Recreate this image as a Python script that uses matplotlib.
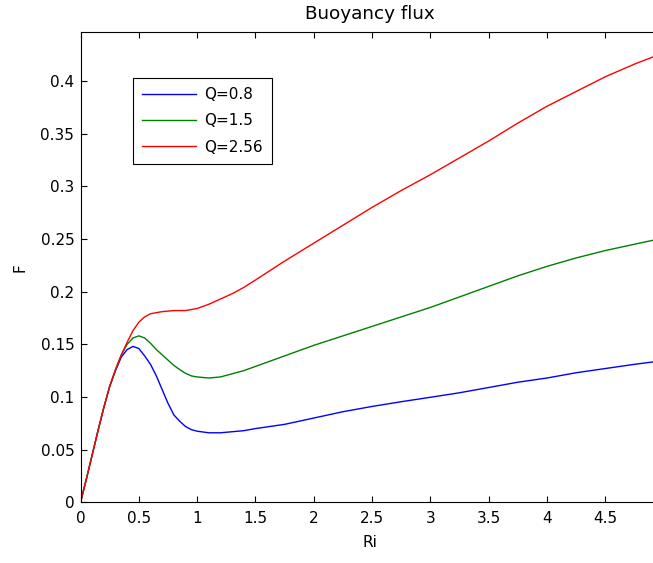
import numpy as np
import matplotlib
matplotlib.use("Agg")
import matplotlib.pyplot as plt
from matplotlib.ticker import FormatStrFormatter

# Valores (Ri comun para las tres curvas)
ri = [0, 0.05, 0.1, 0.15, 0.2, 0.25, 0.3, 0.35, 0.4, 0.45, 0.5, 0.55, 0.6, 0.65,
      0.7, 0.75, 0.8, 0.85, 0.9, 0.95, 1.0, 1.1, 1.2, 1.3, 1.4, 1.5, 1.75, 2.0,
      2.25, 2.5, 2.75, 3.0, 3.25, 3.5, 3.75, 4.0, 4.25, 4.5, 4.75, 4.96]

f_q08 = [0, 0.022, 0.045, 0.068, 0.09, 0.11, 0.125, 0.138, 0.145, 0.148, 0.146,
         0.139, 0.131, 0.120, 0.107, 0.094, 0.083, 0.077, 0.072, 0.069, 0.0675,
         0.066, 0.066, 0.067, 0.068, 0.070, 0.074, 0.080, 0.086, 0.091, 0.0955,
         0.0997, 0.104, 0.109, 0.114, 0.118, 0.123, 0.127, 0.131, 0.134]

f_q15 = [0, 0.022, 0.045, 0.068, 0.09, 0.11, 0.126, 0.140, 0.150, 0.156, 0.158,
         0.156, 0.151, 0.145, 0.140, 0.135, 0.130, 0.126, 0.1225, 0.120, 0.119,
         0.118, 0.119, 0.122, 0.125, 0.129, 0.139, 0.149, 0.158, 0.167, 0.176,
         0.185, 0.195, 0.205, 0.215, 0.224, 0.232, 0.239, 0.245, 0.250]

f_q256 = [0, 0.022, 0.045, 0.068, 0.09, 0.11, 0.126, 0.140, 0.152, 0.163, 0.171,
          0.176, 0.179, 0.180, 0.181, 0.1815, 0.182, 0.182, 0.182, 0.183, 0.184,
          0.188, 0.193, 0.198, 0.204, 0.211, 0.229, 0.246, 0.263, 0.280, 0.296,
          0.311, 0.327, 0.343, 0.360, 0.376, 0.390, 0.404, 0.416, 0.425]

labels = ["Q=0.8", "Q=1.5", "Q=2.56"]
colores = ["#0000ff", "#008000", "#ff0000"]

plt.rcParams["font.family"] = "DejaVu Sans"
plt.rcParams["font.size"] = 11

fig = plt.figure(figsize=(6.53, 5.63), dpi=100)
ax = fig.add_axes([0.1233, 0.1078, 0.8859, 0.8345])

for f, lab, c in zip([f_q08, f_q15, f_q256], labels, colores):
    ax.plot(ri, f, color=c, linewidth=1.0, label=lab)

ax.set_xlim(0, 4.96)
ax.set_ylim(0, 0.446)
ax.set_xticks(np.arange(0, 4.6, 0.5))
ax.set_yticks(np.arange(0, 0.401, 0.05))
ax.xaxis.set_major_formatter(FormatStrFormatter("%g"))
ax.yaxis.set_major_formatter(FormatStrFormatter("%g"))
ax.tick_params(direction="in", length=4, width=0.8, top=True, right=True)
ax.tick_params(axis="x", pad=6.5)
ax.tick_params(axis="y", pad=4.5)
for s in ax.spines.values():
    s.set_linewidth(0.8)

ax.set_title("Buoyancy flux", pad=10)
ax.set_xlabel("Ri", labelpad=6)
ax.set_ylabel("F", labelpad=9)

leg = ax.legend(loc="upper left", bbox_to_anchor=(0.0913, 0.9038), borderaxespad=0,
                fancybox=False, edgecolor="black", framealpha=1,
                handlelength=3.5, handletextpad=0.55, labelspacing=0.75, borderpad=0.6)
leg.get_frame().set_linewidth(0.8)

fig.savefig("out.png", dpi=100)
